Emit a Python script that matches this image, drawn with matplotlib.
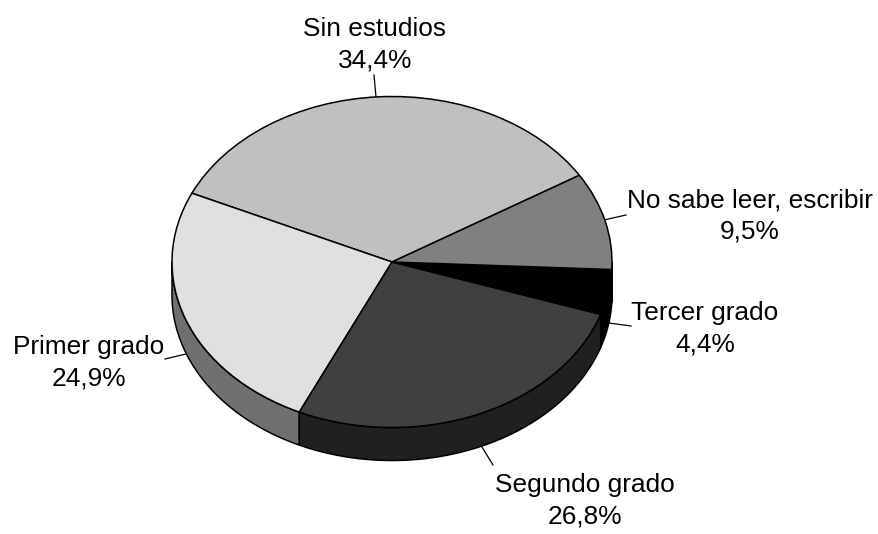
import numpy as np
import matplotlib
matplotlib.use("Agg")
import matplotlib.pyplot as plt

plt.rcParams["font.family"] = ["Liberation Sans", "DejaVu Sans"]

W, H = 879, 534
CX, CY, RX, RY = 392, 262, 220, 165.5
DEPTH = 33 / RY
START = 31.6

# counter-clockwise from the "Sin estudios" / "No sabe" boundary
categories = ["Sin estudios", "Primer grado", "Segundo grado", "Tercer grado",
              "No sabe leer, escribir"]
values = [34.4, 24.9, 26.8, 4.4, 9.5]
pct_labels = ["34,4%", "24,9%", "26,8%", "4,4%", "9,5%"]
top_colors = ["#c0c0c0", "#e0e0e0", "#404040", "#000000", "#808080"]
side_colors = ["#606060", "#707070", "#202020", "#000000", "#404040"]
label_px = [(375, 45), (89, 363), (585, 501), (705, 329), (750, 216)]
leader_px = [((376, 97), (374, 75)), ((186, 354), (165, 359)),
             ((482, 447), (493, 465)), ((609, 323), (631, 326)),
             ((604, 220), (626, 215))]


def px(x, y):
    return (x - CX) / RX, (CY - y) / RY


fig = plt.figure(figsize=(W / 100, H / 100), dpi=100, facecolor="white")
ax = fig.add_axes([0, 0, 1, 1])

ax.pie(values, colors=top_colors, startangle=START, radius=1,
       wedgeprops=dict(edgecolor="black", linewidth=1.1, zorder=3))
ax.set_aspect("auto")
ax.set_xlim(px(0, 0)[0], px(W, 0)[0])
ax.set_ylim(px(0, H)[1], px(0, 0)[1])
ax.axis("off")

# side wall: only the part of each slice on the front half of the disc
edges = START + np.cumsum([0] + values) * 3.6
for a, b, col in zip(edges[:-1], edges[1:], side_colors):
    for lo, hi in ((a, b), (a - 360, b - 360)):
        lo, hi = max(lo, 180), min(hi, 360)
        if hi <= lo:
            continue
        t = np.radians(np.linspace(lo, hi, 80))
        xs = np.r_[np.cos(t), np.cos(t[::-1])]
        ys = np.r_[np.sin(t), np.sin(t[::-1]) - DEPTH]
        ax.fill(xs, ys, facecolor=col, edgecolor="black", linewidth=1.1,
                zorder=2, joinstyle="round")

for cat, pct, (lx, ly), (p0, p1) in zip(categories, pct_labels, label_px,
                                         leader_px):
    ax.text(*px(lx, ly), f"{cat}\n{pct}", ha="center", va="center",
            fontsize=18.9, linespacing=1.4, color="black")
    x0, y0 = px(*p0)
    x1, y1 = px(*p1)
    ax.plot([x0, x1], [y0, y1], color="black", lw=0.9, zorder=1)

fig.savefig("out.png", dpi=100)
plt.close(fig)
